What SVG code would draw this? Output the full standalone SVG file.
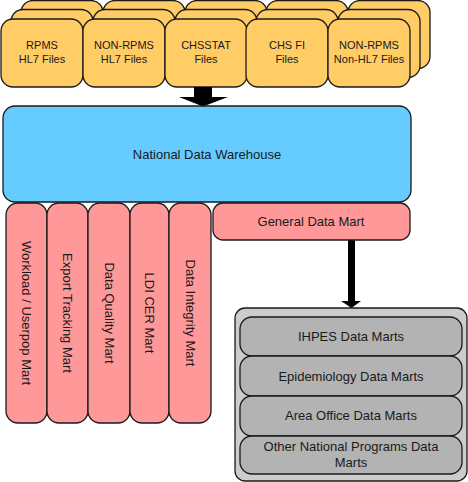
<svg xmlns="http://www.w3.org/2000/svg" width="468" height="482" viewBox="0 0 468 482">
<style>
.file{fill:#ffcc66;stroke:#1a1a1a;stroke-width:1.3}
.dw{fill:#66ccff;stroke:#1a1a1a;stroke-width:1.3}
.mart{fill:#ff9999;stroke:#1a1a1a;stroke-width:1.3}
.outer{fill:#cccccc;stroke:#1a1a1a;stroke-width:1.3}
.inner{fill:#b3b3b3;stroke:#1a1a1a;stroke-width:1.3}
text{font-family:"Liberation Sans",Arial,sans-serif;fill:#1a1a1a;text-anchor:middle}
.s11{font-size:11px}
.s13{font-size:13px}
.arrow{fill:#000}
</style>
<defs>
<g id="stack">
<rect class="file" x="20" y="0.5" width="82" height="68" rx="12"/>
<rect class="file" x="10" y="9.5" width="82" height="68" rx="12"/>
<rect class="file" x="0" y="19" width="82" height="68" rx="12"/>
</g>
</defs>
<g id="file-rpms">
<use href="#stack" x="1"/>
<text class="s11" x="42" y="49">RPMS</text>
<text class="s11" x="42" y="63">HL7 Files</text>
</g>
<g id="file-nonrpms-hl7">
<use href="#stack" x="83"/>
<text class="s11" x="124" y="49">NON-RPMS</text>
<text class="s11" x="124" y="63">HL7 Files</text>
</g>
<g id="file-chsstat">
<use href="#stack" x="165"/>
<text class="s11" x="206" y="49">CHSSTAT</text>
<text class="s11" x="206" y="63">Files</text>
</g>
<g id="file-chsfi">
<use href="#stack" x="246"/>
<text class="s11" x="287" y="49">CHS FI</text>
<text class="s11" x="287" y="63">Files</text>
</g>
<g id="file-nonrpms-nonhl7">
<use href="#stack" x="328"/>
<text class="s11" x="369" y="49">NON-RPMS</text>
<text class="s11" x="369" y="63">Non-HL7 Files</text>
</g>
<g id="connectors">
<polygon class="arrow" points="194,87 212,87 212,97 228,97 203,106.5 179,97 194,97"/>
<polygon class="arrow" points="348,240 355,240 355,301 361,301 351.5,308 341,301 348,301"/>
</g>
<g id="warehouse">
<rect class="dw" x="3" y="106" width="408" height="96" rx="12"/>
<text class="s13" x="207" y="159">National Data Warehouse</text>
</g>
<g id="mart-workload">
<rect class="mart" x="6" y="203" width="41" height="220" rx="12"/>
<text class="s13" transform="translate(26.5,313) rotate(90)" x="0" y="4.5">Workload / Userpop Mart</text>
</g>
<g id="mart-export">
<rect class="mart" x="47" y="203" width="41" height="220" rx="12"/>
<text class="s13" transform="translate(67.5,313) rotate(90)" x="0" y="4.5">Export Tracking Mart</text>
</g>
<g id="mart-quality">
<rect class="mart" x="88" y="203" width="42" height="220" rx="12"/>
<text class="s13" transform="translate(109,313) rotate(90)" x="0" y="4.5">Data Quality Mart</text>
</g>
<g id="mart-ldi">
<rect class="mart" x="130" y="203" width="39" height="220" rx="12"/>
<text class="s13" transform="translate(149.5,313) rotate(90)" x="0" y="4.5">LDI CER Mart</text>
</g>
<g id="mart-integrity">
<rect class="mart" x="169" y="203" width="42" height="220" rx="12"/>
<text class="s13" transform="translate(190,313) rotate(90)" x="0" y="4.5">Data Integrity Mart</text>
</g>
<g id="general-mart">
<rect class="mart" x="213" y="203" width="197" height="37" rx="10"/>
<text class="s13" x="311" y="226">General Data Mart</text>
</g>
<g id="data-marts">
<rect class="outer" x="235" y="308" width="232" height="173" rx="10"/>
</g>
<g id="ihpes">
<rect class="inner" x="240" y="317" width="222" height="39" rx="12"/>
<text class="s13" x="351" y="341">IHPES Data Marts</text>
</g>
<g id="epi">
<rect class="inner" x="240" y="356" width="222" height="40" rx="12"/>
<text class="s13" x="351" y="381">Epidemiology Data Marts</text>
</g>
<g id="area">
<rect class="inner" x="240" y="396" width="222" height="40" rx="12"/>
<text class="s13" x="351" y="420">Area Office Data Marts</text>
</g>
<g id="other">
<rect class="inner" x="240" y="436" width="222" height="38" rx="12"/>
<text class="s13" x="351" y="451">Other National Programs Data</text>
<text class="s13" x="351" y="467">Marts</text>
</g>
</svg>
